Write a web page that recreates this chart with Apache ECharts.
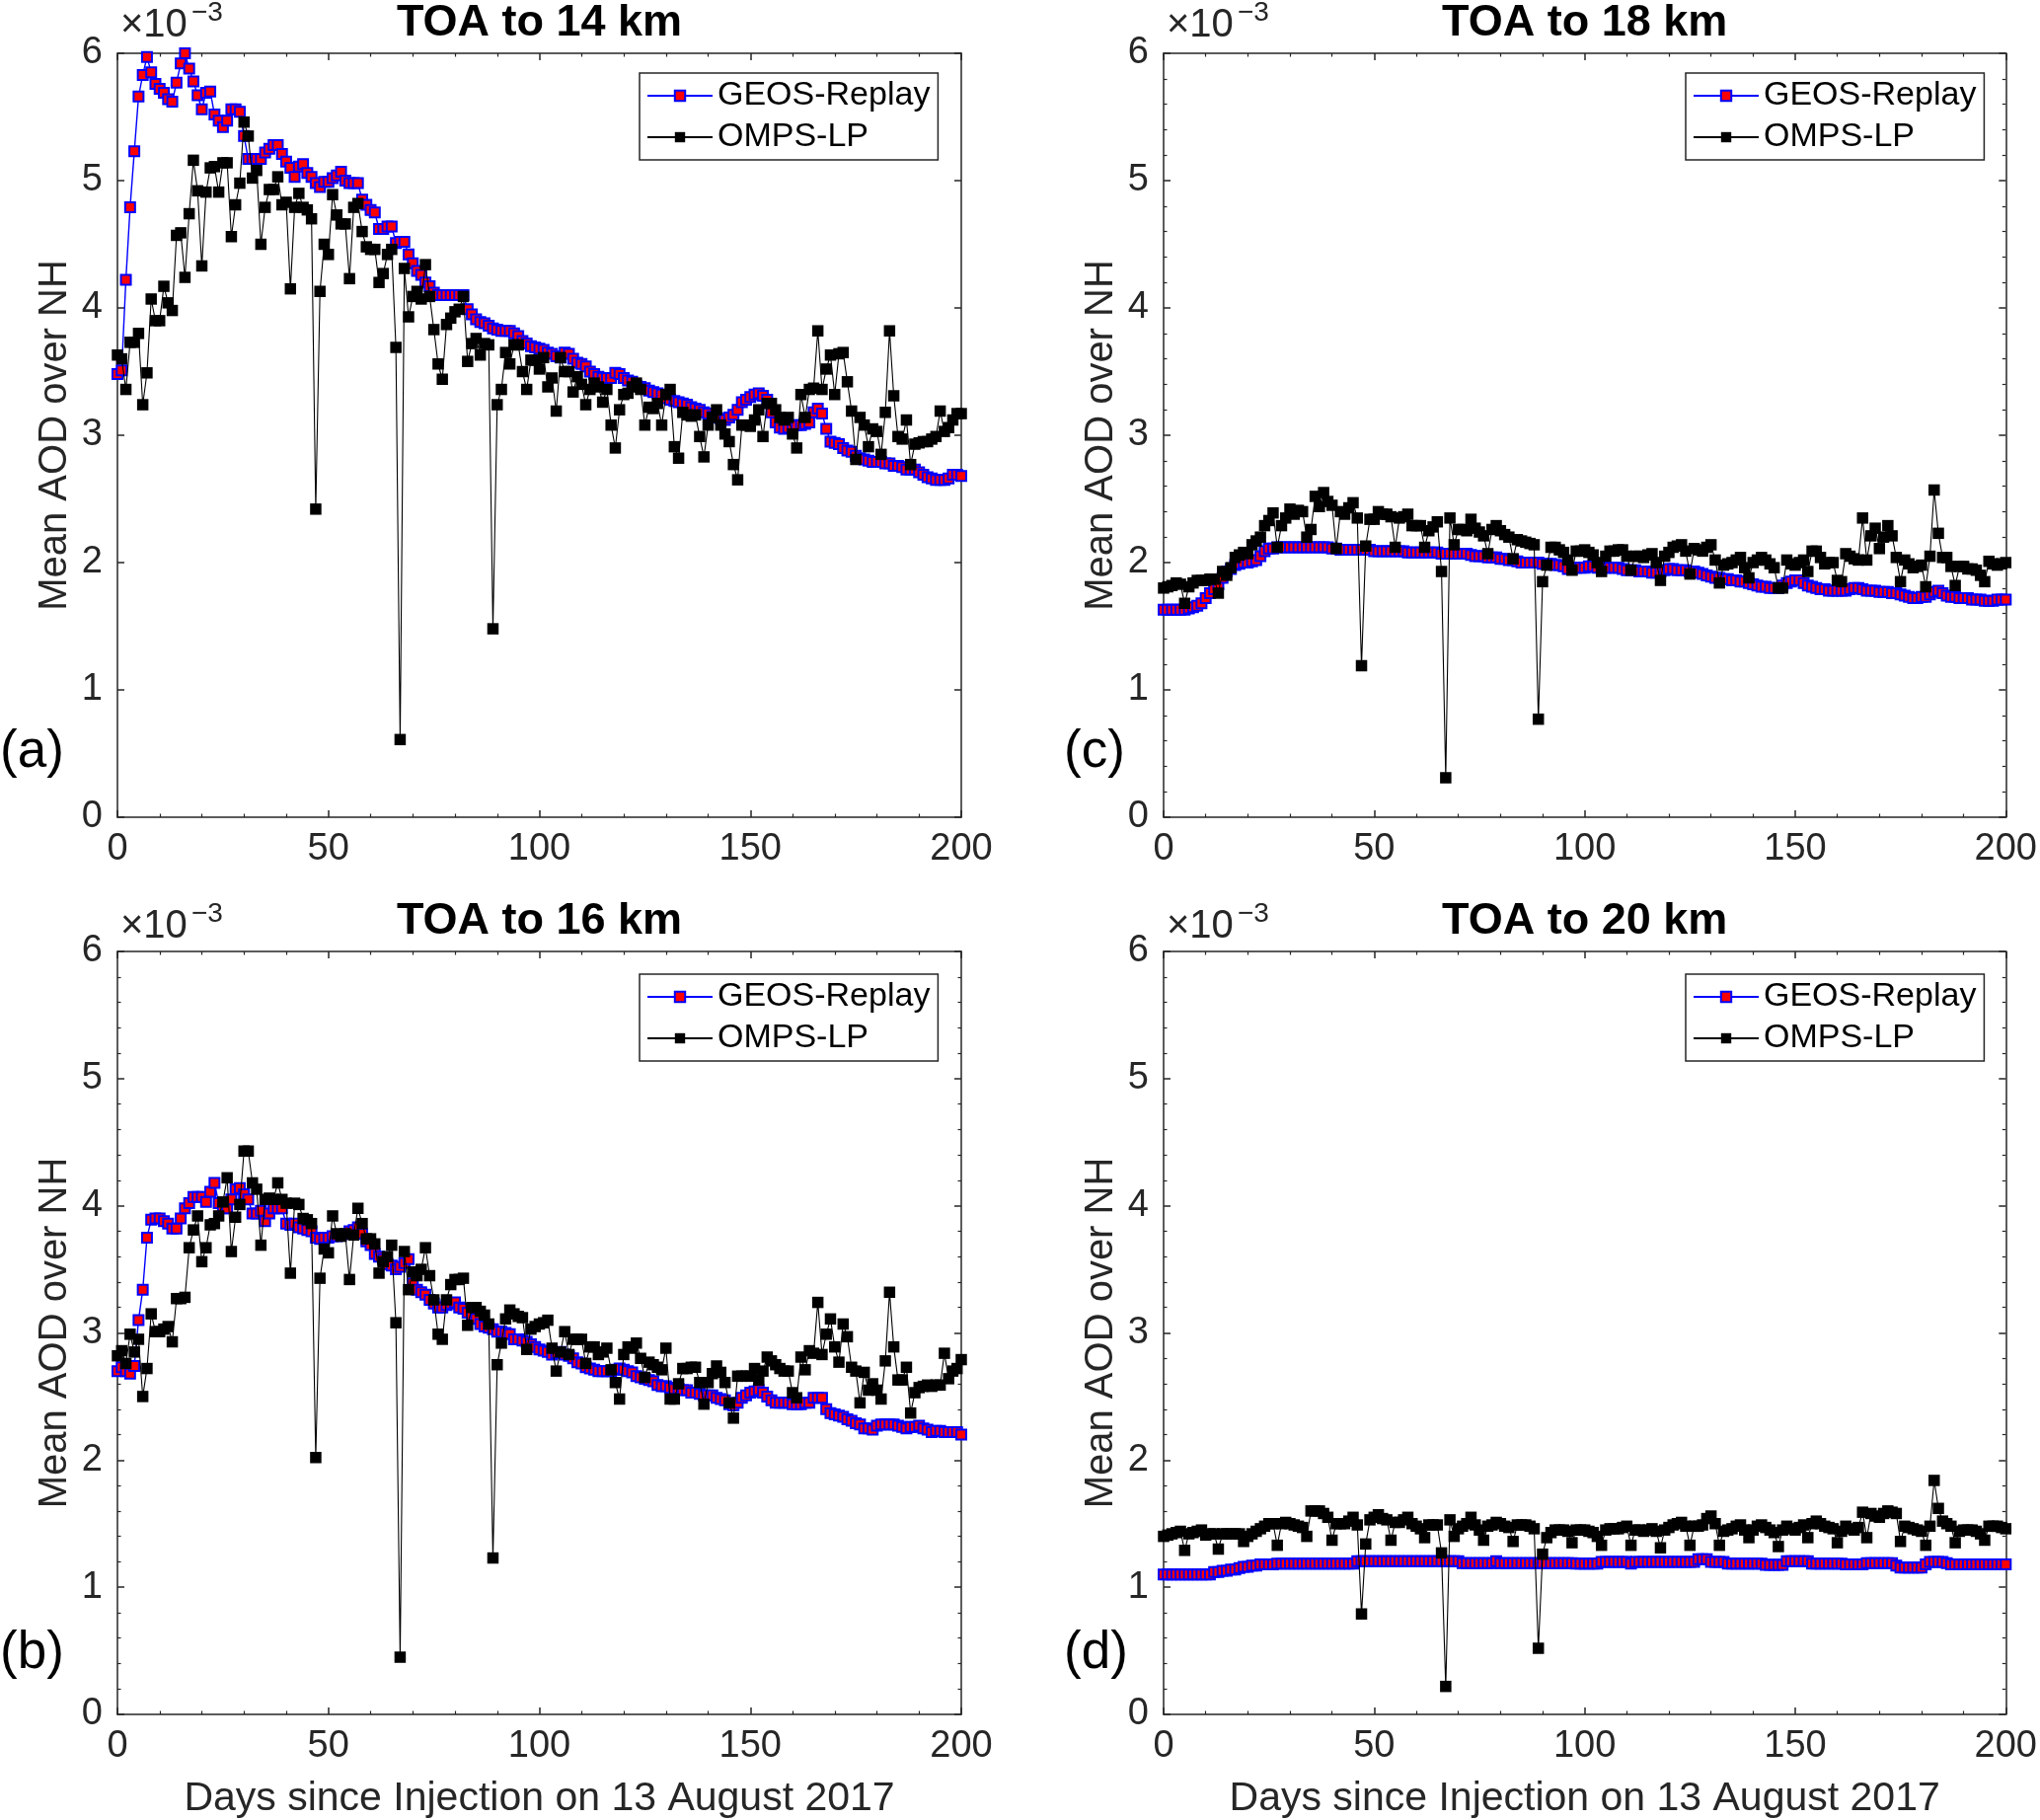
<!DOCTYPE html>
<html><head><meta charset="utf-8">
<script src="https://cdn.jsdelivr.net/npm/echarts@6/dist/echarts.min.js"></script>
<style>html,body{margin:0;padding:0;background:#fff}#c{width:2067px;height:1844px}</style>
</head><body><div id="c"></div>
<script>
const panelTitles = ['TOA to 14 km', 'TOA to 16 km', 'TOA to 18 km', 'TOA to 20 km'];
const panelLetters = ['(a)', '(b)', '(c)', '(d)'];
const seriesNames = ['GEOS-Replay', 'OMPS-LP'];
const yAxisTitle = 'Mean AOD over NH';
const xAxisTitle = 'Days since Injection on 13 August 2017';
const scaleMain = '\u00d710';
const scaleExp = '\u22123';

// values in units of 1e-3, one per day since injection (day 0 .. 200)
const geosA = [3.48,3.51,4.22,4.79,5.23,5.66,5.83,5.97,5.85,5.76,
5.72,5.69,5.64,5.62,5.77,5.92,6.00,5.88,5.78,5.67,
5.56,5.69,5.70,5.52,5.47,5.42,5.47,5.56,5.56,5.54,
5.35,5.17,5.17,5.17,5.17,5.22,5.25,5.28,5.28,5.21,
5.15,5.10,5.03,5.11,5.13,5.06,5.03,4.98,4.95,4.99,
4.99,5.02,5.04,5.07,5.00,4.98,4.98,4.98,4.85,4.81,
4.77,4.75,4.62,4.62,4.64,4.64,4.51,4.52,4.52,4.42,
4.35,4.29,4.26,4.20,4.17,4.12,4.10,4.10,4.10,4.10,
4.10,4.10,4.10,3.99,3.95,3.91,3.89,3.88,3.86,3.84,
3.83,3.82,3.82,3.82,3.80,3.78,3.74,3.72,3.70,3.69,
3.68,3.67,3.65,3.64,3.62,3.61,3.65,3.64,3.60,3.57,
3.56,3.54,3.50,3.48,3.46,3.45,3.45,3.45,3.49,3.48,
3.45,3.43,3.42,3.39,3.38,3.37,3.35,3.34,3.33,3.32,
3.29,3.28,3.27,3.26,3.25,3.24,3.22,3.21,3.20,3.18,
3.17,3.15,3.14,3.13,3.12,3.14,3.16,3.20,3.26,3.28,
3.30,3.32,3.33,3.31,3.28,3.18,3.10,3.06,3.05,3.06,
3.07,3.08,3.08,3.09,3.10,3.18,3.21,3.17,3.05,2.95,
2.94,2.93,2.90,2.88,2.87,2.84,2.82,2.81,2.80,2.79,
2.79,2.79,2.78,2.78,2.76,2.76,2.75,2.73,2.73,2.73,
2.71,2.69,2.67,2.66,2.65,2.65,2.65,2.66,2.69,2.69,
2.68];
const ompsA = [3.63,3.60,3.36,3.73,3.73,3.80,3.24,3.49,4.07,3.90,
3.90,4.17,4.04,3.98,4.57,4.59,4.24,4.74,5.16,4.92,
4.33,4.91,5.10,5.11,4.91,5.14,5.14,4.56,4.81,4.98,
5.46,5.35,5.02,5.08,4.50,4.79,4.93,4.93,5.03,4.81,
4.83,4.15,4.79,4.90,4.79,4.77,4.70,2.42,4.13,4.50,
4.42,4.89,4.73,4.66,4.66,4.23,4.79,4.82,4.60,4.48,
4.46,4.46,4.20,4.27,4.42,4.46,3.69,0.61,4.31,3.93,
4.09,4.13,4.07,4.34,4.09,3.83,3.56,3.44,3.87,3.92,
3.97,3.99,4.09,3.58,3.72,3.76,3.63,3.72,3.71,1.48,
3.24,3.36,3.65,3.56,3.71,3.71,3.50,3.36,3.59,3.59,
3.52,3.61,3.38,3.45,3.19,3.61,3.50,3.50,3.34,3.46,
3.40,3.24,3.36,3.41,3.38,3.26,3.36,3.08,2.90,3.20,
3.32,3.33,3.38,3.41,3.36,3.08,3.22,3.21,3.25,3.08,
3.32,3.36,2.91,2.82,3.18,3.16,3.15,3.16,2.99,2.83,
3.08,3.14,3.20,3.08,3.01,2.95,2.77,2.65,3.08,3.08,
3.07,3.12,3.20,2.99,3.25,3.25,3.20,3.14,3.12,3.14,
3.01,2.90,3.32,3.14,3.36,3.37,3.82,3.36,3.52,3.63,
3.32,3.64,3.65,3.42,3.19,2.81,3.14,3.08,2.91,3.05,
3.03,2.85,3.18,3.82,3.31,2.99,2.97,3.12,2.77,2.93,
2.94,2.95,2.95,2.97,2.99,3.19,3.03,3.06,3.12,3.17,
3.17];
const geosB = [2.70,2.73,2.70,2.68,2.74,3.10,3.34,3.75,3.89,3.90,
3.90,3.88,3.86,3.82,3.82,3.90,3.98,4.02,4.07,4.07,
4.07,4.03,4.11,4.18,4.02,3.98,3.98,4.05,4.13,4.14,
4.09,4.05,3.94,3.94,3.96,3.88,3.94,3.98,3.98,3.98,
3.86,3.85,3.86,3.83,3.82,3.81,3.80,3.75,3.74,3.75,
3.75,3.76,3.76,3.77,3.78,3.80,3.81,3.83,3.78,3.72,
3.69,3.62,3.60,3.58,3.54,3.53,3.50,3.52,3.55,3.58,
3.39,3.34,3.32,3.30,3.26,3.23,3.20,3.20,3.22,3.23,
3.24,3.20,3.19,3.16,3.14,3.11,3.07,3.05,3.04,3.03,
3.01,3.01,3.00,2.99,2.95,2.95,2.94,2.93,2.91,2.89,
2.87,2.86,2.85,2.83,2.84,2.85,2.83,2.82,2.80,2.77,
2.76,2.73,2.72,2.71,2.70,2.70,2.70,2.70,2.71,2.72,
2.71,2.70,2.69,2.66,2.65,2.64,2.63,2.62,2.59,2.58,
2.58,2.57,2.56,2.56,2.55,2.55,2.53,2.53,2.52,2.51,
2.51,2.51,2.49,2.48,2.47,2.44,2.43,2.45,2.49,2.51,
2.53,2.54,2.55,2.53,2.50,2.47,2.45,2.45,2.45,2.45,
2.44,2.44,2.44,2.45,2.45,2.49,2.49,2.49,2.40,2.37,
2.36,2.35,2.34,2.32,2.31,2.29,2.28,2.25,2.25,2.24,
2.27,2.28,2.28,2.28,2.28,2.27,2.26,2.25,2.26,2.26,
2.27,2.25,2.24,2.22,2.23,2.23,2.22,2.22,2.22,2.22,
2.20];
const ompsB = [2.82,2.86,2.76,2.99,2.85,2.95,2.50,2.72,3.15,3.01,
3.01,3.03,3.05,2.93,3.27,3.27,3.28,3.67,3.81,3.92,
3.56,3.67,3.85,3.86,3.92,4.03,4.22,3.64,3.91,4.01,
4.43,4.43,4.18,4.13,3.69,4.05,4.06,4.05,4.18,4.05,
4.02,3.47,4.02,4.01,3.90,3.89,3.86,2.02,3.43,3.66,
3.63,3.92,3.78,3.76,3.78,3.42,3.77,3.98,3.86,3.74,
3.74,3.70,3.47,3.56,3.60,3.69,3.08,0.45,3.64,3.34,
3.48,3.45,3.50,3.67,3.45,3.26,2.99,2.95,3.26,3.38,
3.42,3.42,3.43,3.06,3.20,3.20,3.17,3.14,3.07,1.23,
2.75,2.92,3.11,3.18,3.15,3.13,3.12,2.87,3.03,3.05,
3.07,3.08,3.10,2.88,2.70,2.85,3.01,2.83,2.95,2.95,
2.95,2.76,2.89,2.89,2.83,2.85,2.88,2.71,2.61,2.48,
2.83,2.89,2.88,2.92,2.80,2.65,2.77,2.75,2.73,2.71,
2.88,2.48,2.48,2.60,2.72,2.72,2.73,2.73,2.61,2.44,
2.61,2.68,2.74,2.69,2.61,2.45,2.33,2.66,2.66,2.66,
2.66,2.72,2.63,2.70,2.81,2.78,2.75,2.72,2.70,2.70,
2.53,2.49,2.81,2.71,2.86,2.84,3.24,2.83,2.99,3.11,
2.89,2.77,3.07,2.97,2.73,2.70,2.45,2.69,2.55,2.60,
2.55,2.48,2.78,3.32,2.89,2.63,2.63,2.73,2.37,2.53,
2.57,2.58,2.59,2.58,2.59,2.59,2.84,2.64,2.70,2.72,
2.79];
const geosC = [1.63,1.63,1.63,1.63,1.63,1.63,1.64,1.65,1.66,1.68,
1.72,1.76,1.79,1.83,1.88,1.93,1.95,1.98,1.99,2.00,
2.00,2.01,2.02,2.05,2.09,2.11,2.11,2.12,2.12,2.12,
2.12,2.12,2.12,2.12,2.12,2.12,2.12,2.12,2.12,2.12,
2.11,2.11,2.10,2.10,2.10,2.10,2.10,2.10,2.10,2.10,
2.09,2.09,2.09,2.09,2.09,2.09,2.09,2.09,2.08,2.08,
2.08,2.08,2.08,2.08,2.08,2.08,2.07,2.07,2.07,2.07,
2.07,2.07,2.07,2.06,2.05,2.05,2.05,2.04,2.04,2.04,
2.03,2.03,2.02,2.02,2.01,2.00,2.00,2.00,2.00,2.00,
1.99,1.99,1.99,1.98,1.98,1.97,1.95,1.95,1.96,1.96,
1.96,1.97,1.97,1.96,1.96,1.96,1.96,1.96,1.96,1.95,
1.94,1.94,1.94,1.93,1.93,1.93,1.92,1.92,1.93,1.94,
1.95,1.95,1.94,1.94,1.94,1.93,1.93,1.92,1.91,1.90,
1.89,1.88,1.88,1.87,1.87,1.86,1.86,1.85,1.85,1.84,
1.83,1.82,1.81,1.81,1.80,1.80,1.80,1.82,1.84,1.85,
1.86,1.86,1.84,1.82,1.81,1.80,1.79,1.79,1.78,1.78,
1.78,1.78,1.78,1.79,1.80,1.80,1.79,1.78,1.78,1.78,
1.77,1.77,1.77,1.76,1.76,1.75,1.74,1.73,1.72,1.72,
1.73,1.73,1.75,1.77,1.78,1.76,1.74,1.73,1.73,1.72,
1.72,1.72,1.71,1.71,1.71,1.70,1.70,1.70,1.71,1.71,
1.71];
const ompsC = [1.80,1.81,1.82,1.84,1.83,1.68,1.81,1.84,1.86,1.86,
1.86,1.87,1.87,1.76,1.93,1.90,1.96,2.04,2.06,2.08,
2.07,2.14,2.17,2.20,2.29,2.33,2.39,2.12,2.29,2.35,
2.42,2.38,2.41,2.40,2.20,2.26,2.52,2.44,2.55,2.48,
2.45,2.11,2.40,2.38,2.43,2.47,2.35,1.19,2.13,2.34,
2.34,2.40,2.38,2.38,2.36,2.12,2.35,2.36,2.38,2.29,
2.29,2.29,2.12,2.25,2.28,2.32,1.93,0.31,2.35,2.14,
2.26,2.26,2.25,2.34,2.27,2.24,2.21,2.07,2.26,2.29,
2.25,2.22,2.20,2.03,2.18,2.17,2.16,2.15,2.14,0.77,
1.85,1.98,2.12,2.12,2.10,2.08,2.02,1.94,2.09,2.09,
2.10,2.08,2.06,2.00,1.93,2.05,2.09,2.09,2.10,2.10,
2.05,1.94,2.05,2.05,2.04,2.06,2.07,2.00,1.86,2.05,
2.08,2.12,2.13,2.14,2.09,1.91,2.11,2.10,2.09,2.12,
2.14,2.02,1.84,1.98,1.99,2.00,2.02,2.04,1.96,1.88,
2.00,2.02,2.04,2.02,1.99,1.96,1.80,1.80,2.02,1.99,
1.98,2.00,2.02,1.93,2.09,2.09,2.04,1.99,2.00,2.00,
1.86,1.85,2.07,2.05,2.03,2.02,2.35,2.02,2.21,2.27,
2.11,2.20,2.29,2.21,2.04,1.85,2.02,1.99,1.96,1.97,
1.98,1.81,2.05,2.57,2.23,2.04,2.04,1.97,1.82,1.97,
1.97,1.95,1.95,1.94,1.90,1.85,2.01,1.99,1.98,1.99,
2.00];
const geosD = [1.10,1.10,1.10,1.10,1.10,1.10,1.10,1.10,1.10,1.10,
1.10,1.10,1.12,1.12,1.13,1.13,1.14,1.14,1.15,1.16,
1.16,1.17,1.17,1.18,1.18,1.18,1.18,1.185,1.185,1.185,
1.185,1.185,1.185,1.185,1.185,1.185,1.185,1.185,1.185,1.185,
1.185,1.185,1.185,1.185,1.185,1.185,1.205,1.205,1.205,1.205,
1.205,1.205,1.205,1.205,1.205,1.205,1.205,1.205,1.205,1.205,
1.205,1.205,1.205,1.205,1.205,1.205,1.205,1.205,1.205,1.205,
1.205,1.19,1.19,1.19,1.19,1.19,1.19,1.19,1.19,1.205,
1.19,1.19,1.19,1.19,1.19,1.19,1.19,1.19,1.19,1.19,
1.19,1.19,1.19,1.19,1.19,1.19,1.19,1.19,1.185,1.185,
1.185,1.185,1.185,1.185,1.20,1.20,1.20,1.20,1.20,1.20,
1.20,1.185,1.20,1.20,1.20,1.20,1.20,1.20,1.20,1.20,
1.20,1.20,1.20,1.20,1.20,1.20,1.20,1.22,1.22,1.22,
1.20,1.20,1.20,1.20,1.185,1.185,1.185,1.185,1.185,1.185,
1.185,1.185,1.185,1.175,1.175,1.175,1.175,1.175,1.205,1.205,
1.205,1.205,1.205,1.205,1.185,1.185,1.185,1.185,1.185,1.185,
1.185,1.185,1.18,1.18,1.18,1.18,1.18,1.19,1.19,1.19,
1.19,1.19,1.19,1.19,1.17,1.155,1.155,1.155,1.155,1.155,
1.155,1.18,1.20,1.20,1.20,1.20,1.19,1.18,1.18,1.18,
1.18,1.18,1.18,1.18,1.18,1.18,1.18,1.18,1.18,1.18,
1.18];
const ompsD = [1.40,1.41,1.42,1.43,1.44,1.29,1.42,1.43,1.44,1.45,
1.41,1.42,1.42,1.30,1.42,1.42,1.42,1.42,1.42,1.36,
1.40,1.42,1.44,1.46,1.48,1.50,1.50,1.33,1.50,1.51,
1.50,1.49,1.48,1.47,1.40,1.60,1.60,1.60,1.58,1.55,
1.37,1.50,1.50,1.50,1.52,1.55,1.49,0.79,1.34,1.53,
1.55,1.57,1.54,1.53,1.37,1.51,1.51,1.53,1.55,1.50,
1.48,1.46,1.39,1.49,1.49,1.49,1.27,0.22,1.53,1.40,
1.46,1.48,1.50,1.55,1.49,1.45,1.37,1.48,1.49,1.51,
1.50,1.48,1.47,1.36,1.49,1.49,1.49,1.48,1.46,0.52,
1.26,1.39,1.43,1.45,1.45,1.45,1.44,1.35,1.45,1.45,
1.45,1.44,1.43,1.40,1.33,1.45,1.46,1.46,1.46,1.47,
1.48,1.33,1.45,1.45,1.44,1.45,1.46,1.44,1.31,1.45,
1.47,1.49,1.50,1.51,1.48,1.33,1.48,1.48,1.49,1.54,
1.56,1.50,1.33,1.44,1.45,1.46,1.48,1.49,1.45,1.39,
1.45,1.48,1.49,1.47,1.45,1.43,1.32,1.45,1.48,1.46,
1.45,1.47,1.49,1.39,1.50,1.52,1.50,1.48,1.47,1.46,
1.35,1.44,1.48,1.46,1.45,1.47,1.59,1.39,1.58,1.56,
1.55,1.58,1.60,1.59,1.58,1.36,1.48,1.47,1.46,1.45,
1.44,1.33,1.48,1.84,1.62,1.52,1.50,1.48,1.35,1.44,
1.45,1.45,1.45,1.44,1.42,1.37,1.48,1.48,1.48,1.47,
1.46];

const panelGeos = [geosA, geosB, geosC, geosD];
const panelOmps = [ompsA, ompsB, ompsC, ompsD];

// layout (styles only)
const FONT = '"Liberation Sans", Arial, Helvetica, sans-serif';
const AX = '#262626';
const GW = 855, GH = 777;
const gridPos = [[119, 51], [119, 964], [1179, 51], [1179, 964]];
const yMinor = [false, true, true, true];
const bottomRow = [false, true, false, true];

const grids = [], xAxes = [], yAxes = [], series = [], legends = [], graphics = [];
const lineSt = {color: AX, width: 1.5};

for (let i = 0; i < 4; i++) {
  const [gl, gt] = gridPos[i];
  grids.push({left: gl, top: gt, width: GW, height: GH});
  const xBase = {
    gridIndex: i, type: 'value', min: 0, max: 200, interval: 50,
    axisLine: {show: true, onZero: false, lineStyle: lineSt},
    axisTick: {show: true, inside: true, length: 7, lineStyle: lineSt},
    minorTick: {show: true, splitNumber: 5, length: 3.5, lineStyle: {color: AX, width: 1.2}},
    splitLine: {show: false}, minorSplitLine: {show: false}
  };
  xAxes.push(Object.assign({}, xBase, {
    position: 'bottom',
    axisLabel: {show: true, fontSize: 38, color: AX, fontFamily: FONT, margin: 14},
    name: bottomRow[i] ? xAxisTitle : '', nameLocation: 'middle', nameGap: 65,
    nameTextStyle: {fontSize: 41, color: AX, fontFamily: FONT}
  }));
  xAxes.push(Object.assign({}, xBase, {
    position: 'top', axisLabel: {show: false},
    name: panelTitles[i], nameLocation: 'middle', nameGap: 8,
    nameTextStyle: {fontSize: 45, fontWeight: 'bold', color: '#000', fontFamily: FONT}
  }));
  const yBase = {
    gridIndex: i, type: 'value', min: 0, max: 6, interval: 1,
    axisLine: {show: true, onZero: false, lineStyle: lineSt},
    axisTick: {show: true, inside: true, length: 7, lineStyle: lineSt},
    minorTick: {show: yMinor[i], splitNumber: 5, length: 3.5, lineStyle: {color: AX, width: 1.2}},
    splitLine: {show: false}, minorSplitLine: {show: false}
  };
  yAxes.push(Object.assign({}, yBase, {
    position: 'left',
    axisLabel: {show: true, fontSize: 38, color: AX, fontFamily: FONT, margin: 15},
    name: yAxisTitle, nameLocation: 'middle', nameGap: 43,
    nameTextStyle: {fontSize: 40, color: AX, fontFamily: FONT}
  }));
  yAxes.push(Object.assign({}, yBase, {position: 'right', axisLabel: {show: false}}));

  series.push({
    type: 'line', name: seriesNames[0], xAxisIndex: 2 * i, yAxisIndex: 2 * i,
    data: panelGeos[i].map((v, d) => [d, v]),
    symbol: 'rect', symbolSize: 10, showSymbol: true, showAllSymbol: true,
    lineStyle: {color: '#0000ff', width: 1.4},
    itemStyle: {color: '#ff0000', borderColor: '#0000ff', borderWidth: 2},
    emphasis: {disabled: true}, z: 2, animation: false
  });
  series.push({
    type: 'line', name: seriesNames[1], xAxisIndex: 2 * i, yAxisIndex: 2 * i,
    data: panelOmps[i].map((v, d) => [d, v]),
    symbol: 'rect', symbolSize: 11.5, showSymbol: true, showAllSymbol: true,
    lineStyle: {color: '#000000', width: 1.1},
    itemStyle: {color: '#000000'},
    emphasis: {disabled: true}, z: 3, animation: false
  });

  legends.push({
    orient: 'vertical', left: gl + 529, top: gt + 23,
    data: seriesNames, selectedMode: false,
    itemWidth: 66, itemHeight: 13, itemGap: 8, padding: [6, 8, 6, 7],
    textStyle: {fontSize: 34, color: '#000', fontFamily: FONT},
    borderColor: AX, borderWidth: 1.5, backgroundColor: '#fff'
  });

  graphics.push({type: 'text', left: gl + 3, top: gt - 45,
    style: {text: scaleMain, fontSize: 40, fill: AX, fontFamily: FONT}});
  graphics.push({type: 'text', left: gl + 75, top: gt - 52,
    style: {text: scaleExp, fontSize: 28, fill: AX, fontFamily: FONT}});
  graphics.push({type: 'text', x: gl < 500 ? 0 : gl - 101, y: gt + 711,
    style: {text: panelLetters[i], fontSize: 53, fill: '#000', fontFamily: FONT, verticalAlign: 'middle', align: 'left'}});
}

const chart = echarts.init(document.getElementById('c'), null, {renderer: 'canvas'});
chart.setOption({
  animation: false,
  backgroundColor: '#ffffff',
  grid: grids, xAxis: xAxes, yAxis: yAxes, series: series,
  legend: legends, graphic: graphics
});
</script></body></html>
